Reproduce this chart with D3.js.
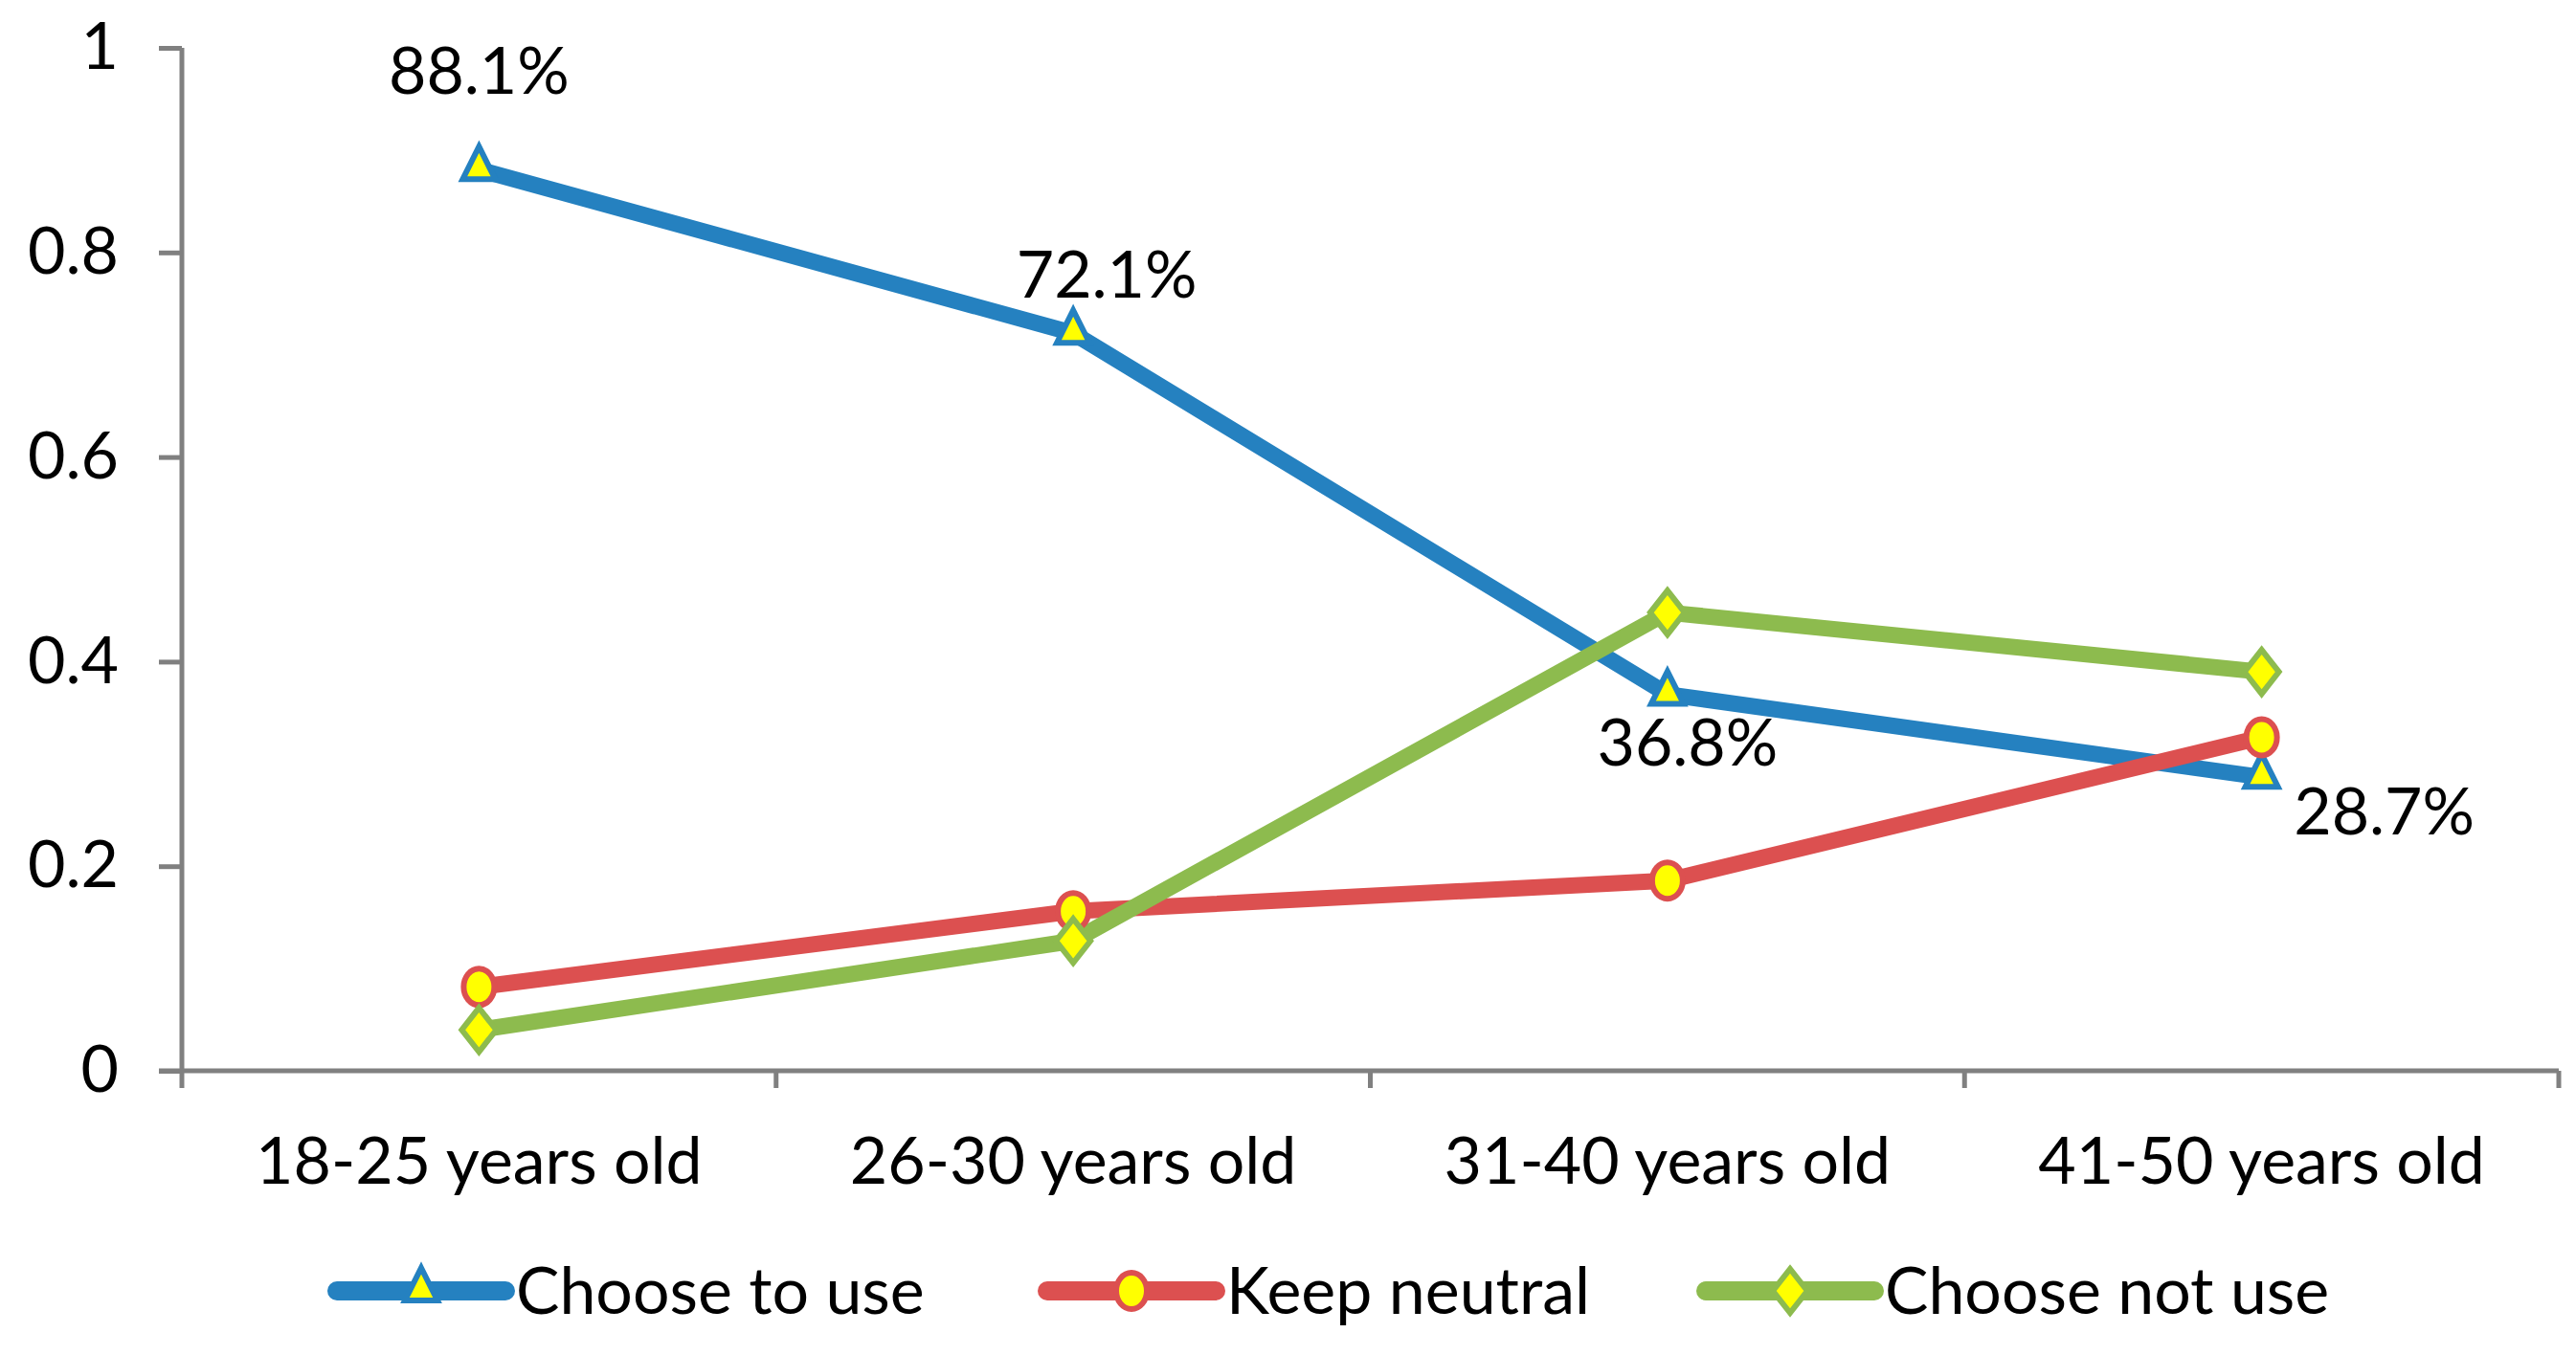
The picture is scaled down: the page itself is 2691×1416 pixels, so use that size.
<!DOCTYPE html>
<html>
<head>
<meta charset="utf-8">
<script src="https://cdn.jsdelivr.net/npm/d3@7"></script>
<style>
  body { margin: 0; background: #fff; }
  svg { display: block; font-family: Lato, "Open Sans", sans-serif; }
</style>
</head>
<body>
<div id="chart"></div>
<script>
// data
var ageGroups = ["18-25 years old", "26-30 years old", "31-40 years old", "41-50 years old"];
var chooseToUse = [0.881, 0.721, 0.368, 0.287];
var keepNeutral = [0.082, 0.156, 0.186, 0.326];
var chooseNotUse = [0.040, 0.127, 0.448, 0.390];
var seriesNames = ["Choose to use", "Keep neutral", "Choose not use"];
var yTicks = [0, 0.2, 0.4, 0.6, 0.8, 1];

var width = 2691, height = 1416;
var fontSize = 68;

var svg = d3.select("#chart").append("svg")
    .attr("width", width)
    .attr("height", height);

var x = d3.scaleBand().domain(ageGroups).range([190, 2673]);
var y = d3.scaleLinear().domain([0, 1]).range([1119, 50]);

var series = [
    {name: seriesNames[0], values: chooseToUse, color: "#2581c0", marker: "triangle"},
    {name: seriesNames[1], values: keepNeutral, color: "#dc5050", marker: "circle"},
    {name: seriesNames[2], values: chooseNotUse, color: "#8dbb4e", marker: "diamond"}
];

// axes
var yAxis = d3.axisLeft(y).tickValues(yTicks).tickSize(24).tickPadding(42)
    .tickFormat(function(d){ return d3.format("")(d); });
var gy = svg.append("g").attr("transform", "translate(190,0)").call(yAxis);

var xAxis = d3.axisBottom(x).tickSize(0).tickPadding(118);
var gx = svg.append("g").attr("transform", "translate(0,1119)").call(xAxis);

// category boundaries ticks
gx.selectAll(".bound")
    .data(d3.range(ageGroups.length + 1))
    .enter().append("line")
    .attr("class", "bound")
    .attr("x1", function(i){ return x.range()[0] + i * x.step(); })
    .attr("x2", function(i){ return x.range()[0] + i * x.step(); })
    .attr("y1", 0).attr("y2", 18);

svg.selectAll(".domain").attr("stroke", "#808080").attr("stroke-width", 5);
svg.selectAll(".tick line, .bound").attr("stroke", "#808080").attr("stroke-width", 5);
gx.select(".domain").attr("d", "M166,0H2673");
gy.select(".domain").attr("d", "M0,1119V50");
svg.selectAll(".tick text")
    .attr("fill", "#000")
    .style("font-size", fontSize + "px")
    .style("font-family", "Lato, 'Open Sans', sans-serif");
gx.selectAll(".tick text").attr("dy", "0");

// markers
var markerPath = function(type){
    if (type == "triangle") return "M0,-24L17,10L-17,10Z";
    if (type == "diamond") return "M0,-23L18,0L0,23L-18,0Z";
    return null;
};

var drawMarker = function(g, s){
    if (s.marker == "circle") {
        g.append("ellipse").attr("rx", 16).attr("ry", 19)
            .attr("fill", "#ffff00").attr("stroke", s.color).attr("stroke-width", 6);
    } else {
        g.append("path").attr("d", markerPath(s.marker))
            .attr("fill", "#ffff00").attr("stroke", s.color).attr("stroke-width", 6)
            .attr("stroke-linejoin", "miter");
    }
};

var line = d3.line()
    .x(function(d, i){ return x(ageGroups[i]) + x.bandwidth() / 2; })
    .y(function(d){ return y(d); });

var plot = svg.append("g");
series.forEach(function(s){
    plot.append("path")
        .attr("d", line(s.values))
        .attr("fill", "none")
        .attr("stroke", s.color)
        .attr("stroke-width", 17)
        .attr("stroke-linejoin", "round");
});
series.forEach(function(s){
    s.values.forEach(function(v, i){
        var g = plot.append("g")
            .attr("transform", "translate(" + (x(ageGroups[i]) + x.bandwidth() / 2) + "," + y(v) + ")");
        drawMarker(g, s);
    });
});

// data labels on "Choose to use"
var labelOffsets = [[0, -79], [35, -37], [21, 74], [128, 60]];
plot.selectAll(".dlabel")
    .data(chooseToUse)
    .enter().append("text")
    .attr("class", "dlabel")
    .attr("x", function(d, i){ return x(ageGroups[i]) + x.bandwidth() / 2 + labelOffsets[i][0]; })
    .attr("y", function(d, i){ return y(d) + labelOffsets[i][1]; })
    .attr("text-anchor", "middle")
    .style("font-size", fontSize + "px")
    .text(function(d){ return d3.format(".1%")(d); });

// legend
var legendX = [352, 1094, 1782];
var legend = svg.append("g").attr("transform", "translate(0,1349)");
series.forEach(function(s, i){
    var g = legend.append("g").attr("transform", "translate(" + legendX[i] + ",0)");
    g.append("line").attr("x1", 0).attr("x2", 176)
        .attr("stroke", s.color).attr("stroke-width", 20).attr("stroke-linecap", "round");
    var m = g.append("g").attr("transform", "translate(88,0)");
    drawMarker(m, s);
    g.append("text").attr("x", 187).attr("y", 0).attr("dy", "0.35em")
        .style("font-size", fontSize + "px")
        .text(s.name);
});
</script>
</body>
</html>
